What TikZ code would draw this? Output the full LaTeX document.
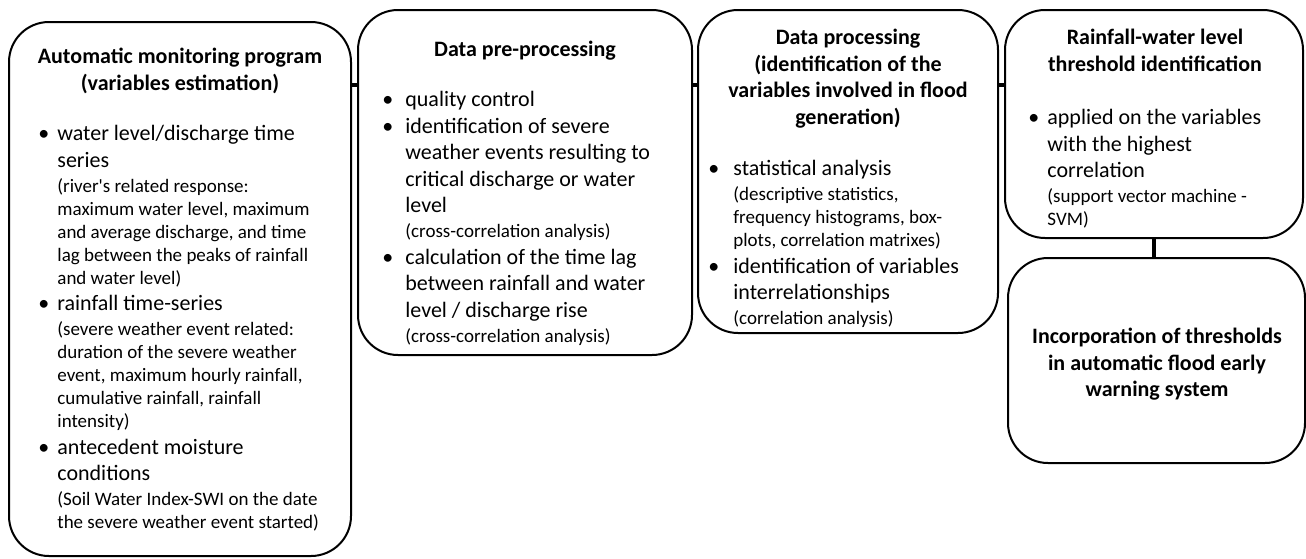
\documentclass[tikz,border=0pt]{standalone}
\usepackage{fontspec}
\setmainfont{Carlito}
\usetikzlibrary{positioning}

% bullet item with hanging lines, and the smaller note under it
\newlength{\bul}
\newcommand{\bitem}[1]{\hangindent=\bul\hangafter=1\noindent\makebox[\bul][l]{\textbullet}#1\par}
\newcommand{\bnote}[1]{{\vspace{1pt}\fontsize{9.5}{11.5}\selectfont\leftskip=\bul\noindent #1\par}}

\begin{document}
\begin{tikzpicture}[
  x=0.5pt, y=-0.5pt,
  stage/.style={draw, line width=1pt, rounded corners=20pt, inner sep=0pt},
  title/.style={font=\bfseries\fontsize{11}{13.25}\selectfont, align=center, anchor=north, inner sep=0pt},
  list/.style={font=\fontsize{11}{13.25}\selectfont, text width=#1, align=flush left, anchor=north west, inner sep=0pt},
  link/.style={line width=2.2pt}
]
\useasboundingbox (0,0) rectangle (1306,558);

% the five stages
\node[stage, minimum width=171pt, minimum height=267pt] (mon) at (180,289) {};
\node[stage, minimum width=167pt, minimum height=172.5pt] (pre) at (525,182.5) {};
\node[stage, minimum width=150pt, minimum height=161.5pt] (proc) at (848,171.5) {};
\node[stage, minimum width=149pt, minimum height=114pt] (thr) at (1154,124) {};
\node[stage, minimum width=148.5pt, minimum height=102.5pt] (warn) at (1156.5,360.5) {};

% monitoring
\node[title] (monT) at (180,48) {Automatic monitoring program\\(variables estimation)};
\node[list=165pt] (monL) at (38,125) {\setlength{\bul}{9.5pt}%
  \bitem{water level/discharge time\newline series}
  \bnote{(river\textquotesingle s related response:\newline maximum water level, maximum\newline and average discharge, and time\newline lag between the peaks of rainfall\newline and water level)}
  \bitem{rainfall time-series}
  \bnote{(severe weather event related:\newline duration of the severe weather\newline event, maximum hourly rainfall,\newline cumulative rainfall, rainfall\newline intensity)}
  \bitem{antecedent moisture\newline conditions}
  \bnote{(Soil Water Index-SWI on the date\newline the severe weather event started)}};

% pre-processing
\node[title] (preT) at (525,41) {Data pre-processing};
\node[list=160pt] (preL) at (382,91) {\setlength{\bul}{11.5pt}%
  \bitem{quality control}
  \bitem{identification of severe\newline weather events resulting to\newline critical discharge or water\newline level}
  \bnote{(cross-correlation analysis)}
  \bitem{calculation of the time lag\newline between rainfall and water\newline level / discharge rise}
  \bnote{(cross-correlation analysis)}};

% processing
\node[title] (procT) at (848,29) {Data processing\\(identification of the\\variables involved in flood\\generation)};
\node[list=145pt] (procL) at (708,160) {\setlength{\bul}{12.5pt}%
  \bitem{statistical analysis}
  \bnote{(descriptive statistics,\newline frequency histograms, box-\newline plots, correlation matrixes)}
  \bitem{identification of variables\newline interrelationships}
  \bnote{(correlation analysis)}};

% threshold
\node[title] (thrT) at (1155,29) {Rainfall-water level\\threshold identification};
\node[list=140pt] (thrL) at (1028,109) {\setlength{\bul}{9.5pt}%
  \bitem{applied on the variables\newline with the highest\newline correlation}
  \bnote{(support vector machine -\newline SVM)}};

% early warning
\node[title] (warnT) at (1157,328) {Incorporation of thresholds\\in automatic flood early\\warning system};

% links
\coordinate (row) at (0,85);
\draw[link] (mon.east |- row) -- (pre.west |- row);
\draw[link] (pre.east |- row) -- (proc.west |- row);
\draw[link] (proc.east |- row) -- (thr.west |- row);
\draw[link] (thr.south) -- (thr.south |- warn.north);
\end{tikzpicture}
\end{document}
